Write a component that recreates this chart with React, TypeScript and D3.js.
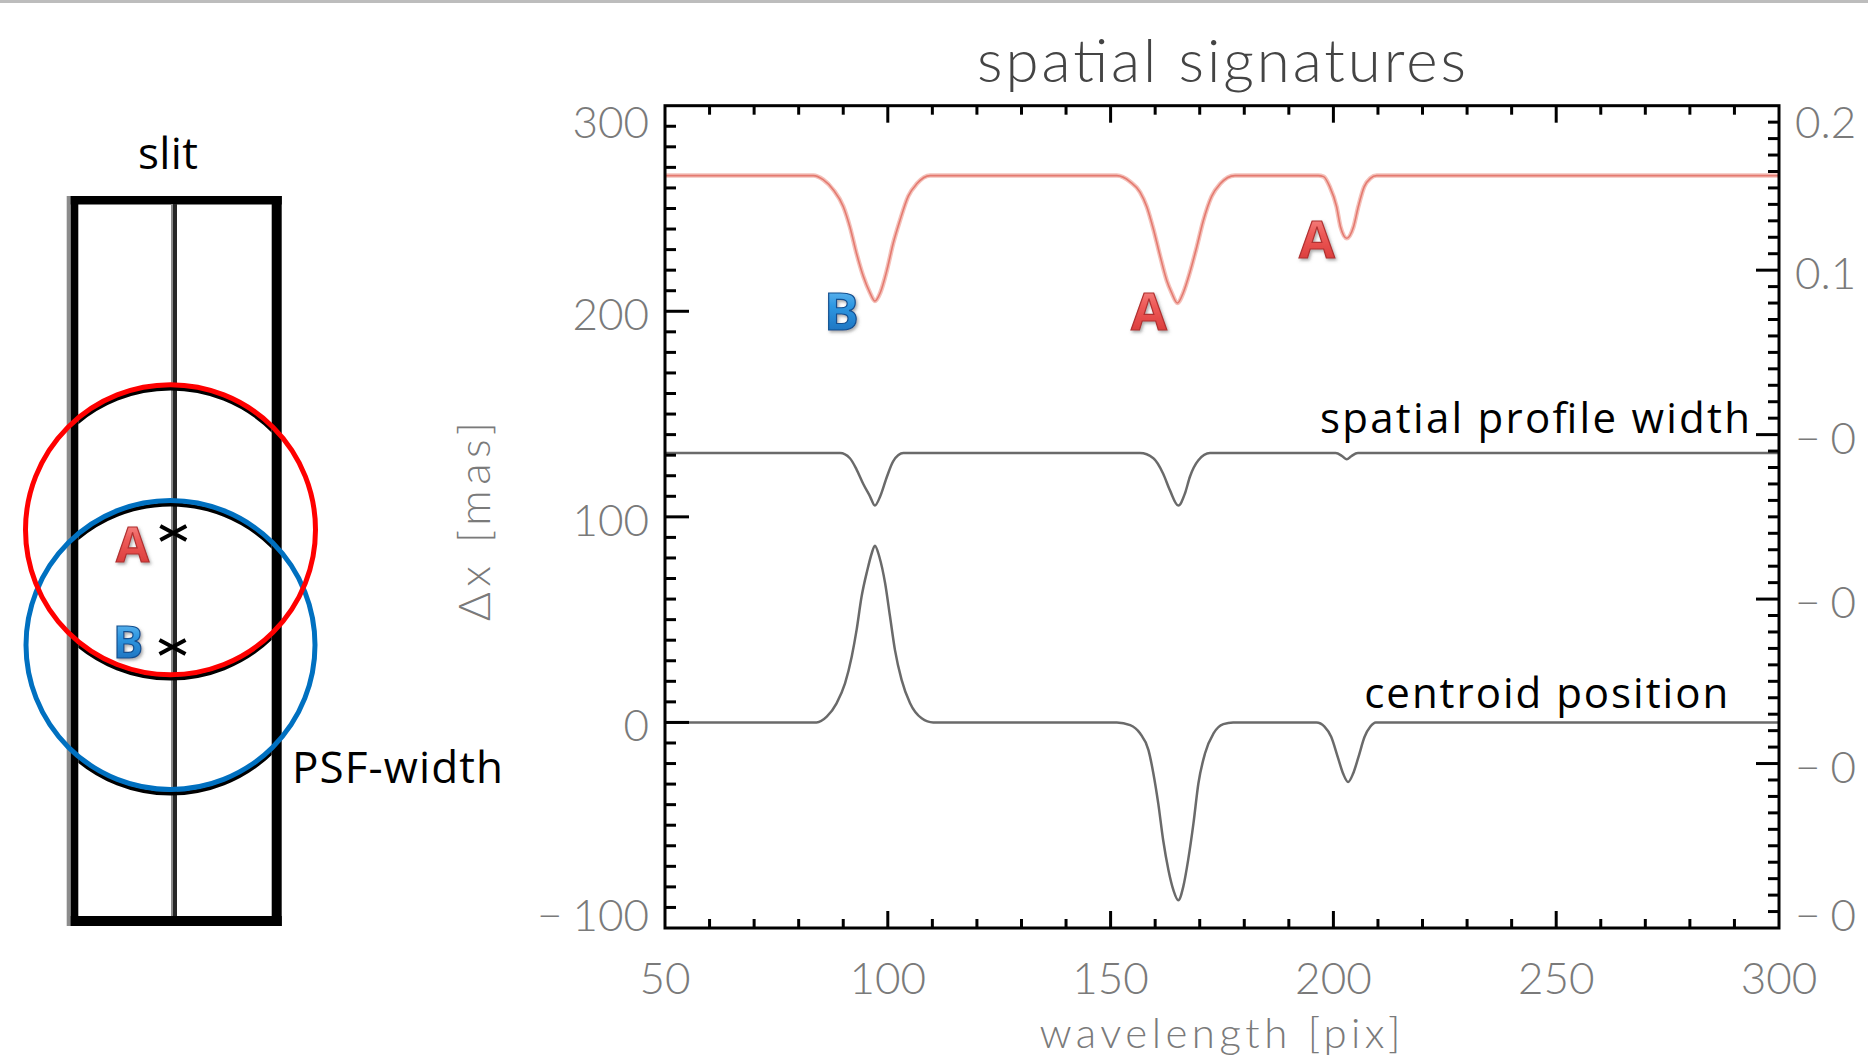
import React from "react";
import * as d3 from "d3";

// curves: [wavelength pix, value in mas]
const redCurve: [number, number][] = [
  [50, 266], [83.3, 266], [85.5, 264], [87.8, 259], [90, 251], [91.5, 241], [93, 228], [94.5, 217],
  [96, 209], [97.1, 205], [98.3, 209], [99.8, 220], [101.2, 233], [102.7, 244], [104.6, 256],
  [106.5, 262], [109.5, 266],
  [151.4, 266], [154.4, 263], [156.6, 258], [158.1, 251], [159.6, 240], [161.1, 227], [162.6, 215],
  [163.7, 209], [165, 204], [166.3, 209], [167.8, 219], [169.3, 231], [170.8, 244], [172.7, 256],
  [174.6, 262], [177.9, 266],
  [196.6, 266], [197.8, 265.5], [199.2, 260.5], [200.7, 251], [201.6, 241], [203, 235.5], [204.5, 241],
  [205.6, 251], [206.9, 260.5], [208.3, 264.7], [209.7, 266], [300, 266],
];

const widthCurve: [number, number][] = [
  [50, 131], [89.3, 131], [91.5, 128.5], [93, 123], [94.5, 116], [96, 110], [97.1, 105.5], [98.3, 110],
  [99.8, 119.5], [101.2, 127], [103.5, 131],
  [156.6, 131], [159.6, 128.5], [161.8, 121], [163.3, 113], [165.2, 105.5], [166.7, 111.5],
  [167.8, 119.5], [169.7, 127.5], [172.3, 131],
  [200.5, 131], [202, 129.5], [203, 128], [204, 129.5], [205.5, 131], [300, 131],
];

const centroidCurve: [number, number][] = [
  [50, 0], [84, 0], [86.3, 2.8], [88.5, 9.3], [90.4, 19], [91.9, 32], [93, 45], [94.1, 61], [95.4, 74],
  [96.4, 82.3], [97.1, 86], [98.1, 80.6], [99.4, 67.7], [100.5, 51.5], [101.6, 35.3], [103.1, 20.7],
  [105, 9.3], [107.6, 2], [110.2, 0],
  [151.4, 0], [154.4, -1.3], [156.6, -5.3], [158.5, -13.5], [159.6, -24.8], [160.7, -39.5],
  [161.8, -57.3], [163, -72], [164.1, -81.6], [165.2, -86.5], [166.3, -80], [167.4, -67], [168.6, -49],
  [169.7, -29.7], [171.2, -15], [173.1, -5.3], [175.3, -0.8], [177.5, 0],
  [196.2, 0], [198, -2], [199.5, -7], [201, -17], [202.2, -25], [203.3, -29], [204.4, -25],
  [205.6, -17], [207, -7], [208.3, -2], [209.5, 0], [300, 0],
];

const xTicks = [50, 100, 150, 200, 250, 300];
const leftTicks = [300, 200, 100, 0, -100];
const rightTicks = [0.2, 0.1, 0, -0.1, -0.2, -0.3];
// the right-hand labels are cut by the picture edge: only this much shows
const rightTickLabels = ["0.2", "0.1", "−0", "−0", "−0", "−0"];

// letters marking the dips, in data coords (centre x, baseline y)
const dipLabels = [
  { text: "B", wl: 89.6, val: 191, color: "blue" },
  { text: "A", wl: 158.6, val: 191, color: "red" },
  { text: "A", wl: 196.3, val: 226, color: "red" },
];

const plot = { left: 665, right: 1779, top: 105.7, bottom: 928 };
const tickFont = "Lato, 'DejaVu Sans', sans-serif";
const noteFont = "'Open Sans', 'Noto Sans', sans-serif";

const labelBaseline = (t: number) =>
  Math.min(Math.max(t + 3, plot.top + 16), plot.bottom - 13) + 16;

export default function App() {
  const x = d3.scaleLinear().domain([50, 300]).range([plot.left, plot.right]);
  const yL = d3.scaleLinear().domain([-100, 300]).range([plot.bottom, plot.top]);
  const yR = d3.scaleLinear().domain([-0.3, 0.2]).range([plot.bottom, plot.top]);
  const line = d3
    .line<[number, number]>()
    .x((d) => x(d[0]))
    .y((d) => yL(d[1]))
    .curve(d3.curveMonotoneX);

  const xMinor = d3.range(60, 300, 10).filter((v) => v % 50 !== 0);
  const xMajor = [100, 150, 200, 250];
  const lMinor = d3.range(-90, 300, 10).filter((v) => v % 100 !== 0);
  const lMajor = [0, 100, 200];
  const rMinor = d3.range(-29, 20).filter((v) => v % 10 !== 0).map((v) => v / 100);
  const rMajor = [-0.2, -0.1, 0, 0.1];

  return (
    <svg
      width={1868}
      height={1058}
      style={{ position: "absolute", left: 0, top: 0, background: "#fff" }}
    >
      <defs>
        <linearGradient id="gRed" x1="0" y1="0" x2="0" y2="1">
          <stop offset="0" stopColor="#f9a9a6" />
          <stop offset="0.45" stopColor="#ee5a58" />
          <stop offset="1" stopColor="#d12f2f" />
        </linearGradient>
        <linearGradient id="gBlue" x1="0" y1="0" x2="0" y2="1">
          <stop offset="0" stopColor="#8fd0f7" />
          <stop offset="0.45" stopColor="#2f98e2" />
          <stop offset="1" stopColor="#1562b0" />
        </linearGradient>
        <filter id="shadow" x="-20%" y="-20%" width="150%" height="150%">
          <feDropShadow dx="1.5" dy="2" stdDeviation="1.5" floodColor="#555" floodOpacity="0.5" />
        </filter>
        <clipPath id="plotClip">
          <rect x={plot.left} y={plot.top} width={plot.right - plot.left} height={plot.bottom - plot.top} />
        </clipPath>
        <clipPath id="slitClip">
          <rect x={78.3} y={204.5} width={193.4} height={711.5} />
        </clipPath>
      </defs>

      <rect x={0} y={0} width={1868} height={3} fill="#bdbdbd" />

      {/* slit sketch */}
      <g>
        <rect x={66.7} y={196} width={4} height={730} fill="#8c8c8c" />
        <rect x={70.7} y={196} width={7.6} height={730} fill="#000" />
        <rect x={271.7} y={196} width={10} height={730} fill="#000" />
        <rect x={70.7} y={196} width={211} height={8.5} fill="#000" />
        <rect x={70.7} y={916} width={211} height={10} fill="#000" />
        <rect x={171} y={204} width={6} height={712} fill="#262626" />
        <rect x={171} y={204} width={2} height={712} fill="#8a8a8a" />
        <g clipPath="url(#slitClip)" fill="none" stroke="#000" strokeWidth={4}>
          <circle cx={170.5} cy={533.5} r={145} />
          <circle cx={170.5} cy={649} r={144.5} />
        </g>
        <circle cx={170.5} cy={645} r={144.5} fill="none" stroke="#0070c0" strokeWidth={5} />
        <circle cx={170.5} cy={529.7} r={145} fill="none" stroke="#ff0000" strokeWidth={5} />
        {[
          [173.3, 533],
          [172.5, 647],
        ].map(([cx, cy], i) => (
          <path
            key={i}
            d={`M${cx - 13},${cy - 7}L${cx + 13},${cy + 7}M${cx - 13},${cy + 7}L${cx + 13},${cy - 7}`}
            stroke="#000"
            strokeWidth={4}
          />
        ))}
        <text
          x={132.5}
          y={561.6}
          textAnchor="middle"
          fontFamily={noteFont}
          fontWeight={700}
          fontSize={48}
          fill="url(#gRed)"
          stroke="#b03030"
          strokeWidth={1.2}
          filter="url(#shadow)"
        >
          A
        </text>
        <text
          x={128}
          y={657.5}
          textAnchor="middle"
          fontFamily={noteFont}
          fontWeight={700}
          fontSize={45}
          fill="url(#gBlue)"
          stroke="#124f8f"
          strokeWidth={1.2}
          filter="url(#shadow)"
        >
          B
        </text>
        <text x={168} y={169} textAnchor="middle" fontFamily={noteFont} fontSize={44} fill="#000" textLength={60}>
          slit
        </text>
        <text x={292} y={783} fontFamily={noteFont} fontSize={44} fill="#000" textLength={211}>
          PSF-width
        </text>
      </g>

      {/* chart */}
      <text
        x={1221.5}
        y={82}
        textAnchor="middle"
        fontFamily={tickFont}
        fontWeight={300}
        fontSize={60}
        fill="#444"
        textLength={489}
      >
        spatial signatures
      </text>

      <g clipPath="url(#plotClip)" fill="none">
        <path d={line(redCurve) || ""} stroke="#f4c1ba" strokeWidth={4.5} />
        <path d={line(redCurve) || ""} stroke="#e47a70" strokeWidth={1.6} />
        <path d={line(widthCurve) || ""} stroke="#6a6a6a" strokeWidth={2.5} />
        <path d={line(centroidCurve) || ""} stroke="#6a6a6a" strokeWidth={2.5} />
      </g>

      {/* ticks */}
      <g stroke="#000" strokeWidth={3}>
        {xMinor.map((v) => (
          <g key={"xm" + v}>
            <line x1={x(v)} x2={x(v)} y1={plot.bottom} y2={plot.bottom - 9} />
            <line x1={x(v)} x2={x(v)} y1={plot.top} y2={plot.top + 9} />
          </g>
        ))}
        {xMajor.map((v) => (
          <g key={"xM" + v}>
            <line x1={x(v)} x2={x(v)} y1={plot.bottom} y2={plot.bottom - 17} />
            <line x1={x(v)} x2={x(v)} y1={plot.top} y2={plot.top + 17} />
          </g>
        ))}
        {lMinor.map((v) => (
          <line key={"lm" + v} x1={plot.left} x2={plot.left + 11} y1={yL(v)} y2={yL(v)} />
        ))}
        {lMajor.map((v) => (
          <line key={"lM" + v} x1={plot.left} x2={plot.left + 24} y1={yL(v)} y2={yL(v)} />
        ))}
        {rMinor.map((v) => (
          <line key={"rm" + v} x1={plot.right} x2={plot.right - 11} y1={yR(v)} y2={yR(v)} />
        ))}
        {rMajor.map((v) => (
          <line key={"rM" + v} x1={plot.right} x2={plot.right - 23} y1={yR(v)} y2={yR(v)} />
        ))}
      </g>
      <rect
        x={plot.left}
        y={plot.top}
        width={plot.right - plot.left}
        height={plot.bottom - plot.top}
        fill="none"
        stroke="#000"
        strokeWidth={3}
      />

      {/* tick labels */}
      <g fontFamily={tickFont} fontWeight={300} fontSize={44} fill="#7a7a7a">
        {xTicks.map((v) => (
          <text key={"xl" + v} x={x(v)} y={994} textAnchor="middle">
            {v}
          </text>
        ))}
        {leftTicks.map((v) => (
          <text key={"ll" + v} x={649} y={labelBaseline(yL(v))} textAnchor="end">
            {v < 0 ? (
              <>
                <tspan>−</tspan>
                <tspan dx={10}>{Math.abs(v)}</tspan>
              </>
            ) : (
              v
            )}
          </text>
        ))}
        {rightTicks.map((v, i) => {
          const s = rightTickLabels[i];
          return (
            <text key={"rl" + v} x={1795} y={labelBaseline(yR(v))}>
              {s.startsWith("−") ? (
                <>
                  <tspan>−</tspan>
                  <tspan dx={10}>{s.slice(1)}</tspan>
                </>
              ) : (
                s
              )}
            </text>
          );
        })}
      </g>

      <text
        x={1220}
        y={1048}
        textAnchor="middle"
        fontFamily={tickFont}
        fontWeight={300}
        fontSize={42}
        fill="#7a7a7a"
        textLength={361}
      >
        wavelength [pix]
      </text>
      <text
        transform="translate(490,521.5) rotate(-90)"
        textAnchor="middle"
        fontFamily={tickFont}
        fontWeight={300}
        fontSize={44}
        fill="#7a7a7a"
        textLength={199}
      >
        Δx [mas]
      </text>

      {/* annotations */}
      <text x={x(293.5)} y={yL(141)} textAnchor="end" fontFamily={noteFont} fontSize={42} fill="#000" textLength={430}>
        spatial profile width
      </text>
      <text x={x(288.6)} y={yL(6.8)} textAnchor="end" fontFamily={noteFont} fontSize={42} fill="#000" textLength={364}>
        centroid position
      </text>

      {dipLabels.map((d, i) => (
        <text
          key={"dl" + i}
          x={x(d.wl)}
          y={yL(d.val)}
          textAnchor="middle"
          fontFamily={noteFont}
          fontWeight={700}
          fontSize={52}
          fill={d.color === "red" ? "url(#gRed)" : "url(#gBlue)"}
          stroke={d.color === "red" ? "#b03030" : "#124f8f"}
          strokeWidth={1.2}
          filter="url(#shadow)"
        >
          {d.text}
        </text>
      ))}
    </svg>
  );
}
